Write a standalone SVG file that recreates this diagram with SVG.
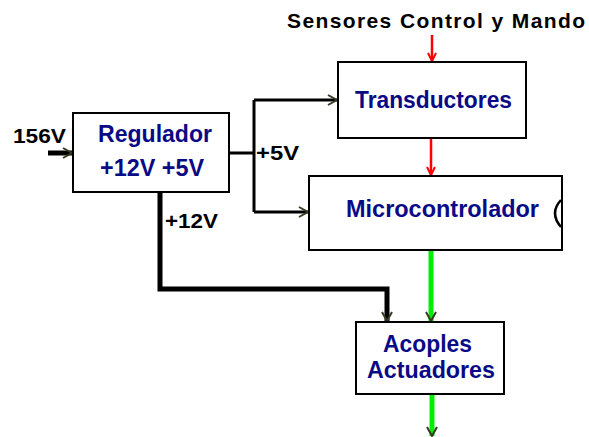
<svg xmlns="http://www.w3.org/2000/svg" width="589" height="437" viewBox="0 0 589 437">
<style>
.box{fill:#fff;stroke:#000;stroke-width:2}
.bl{font-family:"Liberation Sans",Arial,sans-serif;font-weight:bold;font-size:23px;fill:#0a0a86}
.bk{font-family:"Liberation Sans",Arial,sans-serif;font-weight:bold;font-size:21px;fill:#000}
.w{fill:none;stroke:#000}
</style>
<defs>
<marker id="ah" markerUnits="userSpaceOnUse" markerWidth="14" markerHeight="14" viewBox="-12 -7 14 14" refX="0" refY="0" orient="auto">
<polyline points="-9,-5 0,0 -9,5" fill="none" stroke="#3a3a22" stroke-width="2"/>
</marker>
<marker id="ahr" markerUnits="userSpaceOnUse" markerWidth="14" markerHeight="14" viewBox="-12 -7 14 14" refX="0" refY="0" orient="auto">
<polyline points="-8,-4 0,0 -8,4" fill="none" stroke="#ff0000" stroke-width="2"/>
</marker>
</defs>
<rect width="589" height="437" fill="#fff"/>
<g id="connectors">
<path class="w" d="M48 153 H72" stroke-width="5" marker-end="url(#ah)"/>
<path class="w" d="M229 153 H254 M254 100 V212" stroke-width="3"/>
<path class="w" d="M254 100 H337" stroke-width="3" marker-end="url(#ah)"/>
<path class="w" d="M254 212 H308" stroke-width="3" marker-end="url(#ah)"/>
<path class="w" d="M160 192 V289 H387 V321" stroke-width="5" marker-end="url(#ah)"/>
<path d="M432 35 V61" stroke="#ff0000" stroke-width="2.5" fill="none" marker-end="url(#ahr)"/>
<path d="M431 138 V175" stroke="#ff0000" stroke-width="2.5" fill="none" marker-end="url(#ahr)"/>
<path d="M431 250 V321" stroke="#00ee00" stroke-width="5" fill="none" marker-end="url(#ah)"/>
<path d="M432 394 V436" stroke="#00ee00" stroke-width="5" fill="none" marker-end="url(#ah)"/>
</g>
<g id="regulador">
<rect class="box" x="73" y="113" width="156" height="79"/>
<text class="bl" x="98" y="142" textLength="114" lengthAdjust="spacingAndGlyphs">Regulador</text>
<text class="bl" x="100" y="176" textLength="104" lengthAdjust="spacingAndGlyphs">+12V +5V</text>
</g>
<g id="transductores">
<rect class="box" x="338" y="62" width="188" height="76"/>
<text class="bl" x="355" y="108" textLength="157" lengthAdjust="spacingAndGlyphs">Transductores</text>
</g>
<g id="microcontrolador">
<rect class="box" x="309" y="176" width="253" height="74"/>
<text class="bl" x="346" y="217" textLength="193" lengthAdjust="spacingAndGlyphs">Microcontrolador</text>
<path d="M561 200 Q549 213 561 227" fill="none" stroke="#000" stroke-width="2.5"/>
</g>
<g id="acoples">
<rect class="box" x="356" y="322" width="148" height="72"/>
<text class="bl" x="383" y="352" textLength="89" lengthAdjust="spacingAndGlyphs">Acoples</text>
<text class="bl" x="367" y="378" textLength="128" lengthAdjust="spacingAndGlyphs">Actuadores</text>
</g>
<g id="labels">
<text class="bk" x="287" y="28" textLength="298">Sensores Control y Mando</text>
<text class="bk" x="13" y="143" textLength="53" lengthAdjust="spacingAndGlyphs">156V</text>
<text class="bk" x="256" y="160" textLength="43" lengthAdjust="spacingAndGlyphs">+5V</text>
<text class="bk" x="165" y="228" textLength="53" lengthAdjust="spacingAndGlyphs">+12V</text>
</g>
</svg>
